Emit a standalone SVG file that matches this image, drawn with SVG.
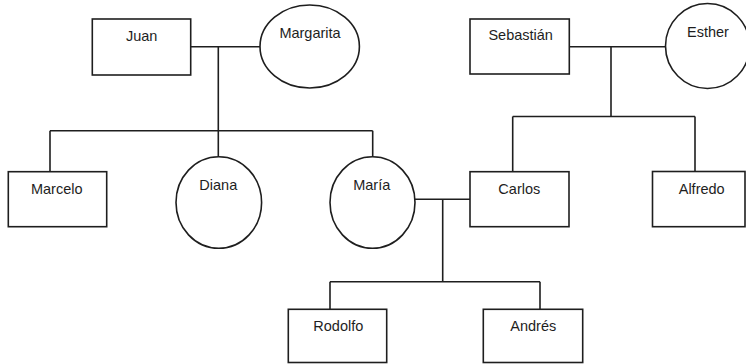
<svg xmlns="http://www.w3.org/2000/svg" width="746" height="364" viewBox="0 0 746 364">
<style>
.n{fill:#fff;stroke:#1e1e1e;stroke-width:1.6}
.c{fill:none;stroke:#1e1e1e;stroke-width:1.6}
text{font-family:"Liberation Sans",Arial,sans-serif;font-size:14.5px;fill:#1e1e1e;text-anchor:middle}
</style>
<rect width="746" height="364" fill="#fff"/>
<g id="connectors">
<path class="c" d="M191 46.7H260M218.3 46.7V156.7M50 130.7H372.7M50 130.7V171.7M372.7 130.7V156.7"/>
<path class="c" d="M569 46.7H665.5M611 46.7V116.5M512.7 116.5H695M512.7 116.5V171.7M695 116.5V171.7"/>
<path class="c" d="M415 199.3H470M442.7 199.3V281.7M330 281.7H540M330 281.7V309.3M540 281.7V309.3"/>
</g>
<g id="juan"><rect class="n" x="92.3" y="19" width="98.4" height="56"/><text x="141.7" y="41">Juan</text></g>
<g id="margarita"><ellipse class="n" cx="309.7" cy="46.5" rx="49.7" ry="41.5"/><text x="310" y="37.5">Margarita</text></g>
<g id="sebastian"><rect class="n" x="470" y="19" width="99.3" height="55"/><text x="520.7" y="40">Sebastián</text></g>
<g id="esther"><ellipse class="n" cx="707.5" cy="46" rx="42" ry="42.5"/><text x="708" y="36.5">Esther</text></g>
<g id="marcelo"><rect class="n" x="8.3" y="171.7" width="98.4" height="55"/><text x="56.7" y="194">Marcelo</text></g>
<g id="diana"><ellipse class="n" cx="218.8" cy="202.5" rx="42.8" ry="45.8"/><text x="218.3" y="190">Diana</text></g>
<g id="maria"><ellipse class="n" cx="372.5" cy="202.5" rx="42.5" ry="45.8"/><text x="371.7" y="190">María</text></g>
<g id="carlos"><rect class="n" x="470" y="171.7" width="99" height="55"/><text x="519.3" y="194">Carlos</text></g>
<g id="alfredo"><rect class="n" x="652.5" y="171.5" width="92.5" height="55.2"/><text x="701.7" y="193.5">Alfredo</text></g>
<g id="rodolfo"><rect class="n" x="288.3" y="309.3" width="98.4" height="53.2"/><text x="338.3" y="330.7">Rodolfo</text></g>
<g id="andres"><rect class="n" x="483.3" y="309.3" width="99.4" height="53.2"/><text x="533.3" y="330.7">Andrés</text></g>
</svg>
